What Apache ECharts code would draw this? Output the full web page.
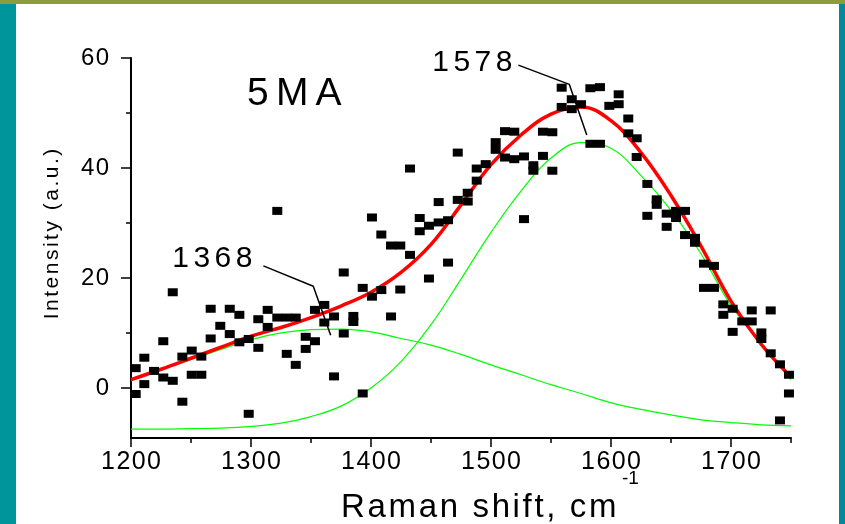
<!DOCTYPE html>
<html>
<head>
<meta charset="utf-8">
<script src="https://cdn.jsdelivr.net/npm/echarts@6/dist/echarts.min.js"></script>
<style>
  html, body { margin: 0; padding: 0; background: #ffffff; }
  #chart { width: 845px; height: 524px; }
</style>
</head>
<body>
<div id="chart"></div>
<script>
// Raman spectrum of sample 5MA: measured points, total fit and two component bands.

// Sample positions (cm-1) for the fitted curves
const curveShift = [1200, 1225, 1250, 1275, 1300, 1325, 1350, 1375, 1400, 1425, 1450, 1475,
                    1500, 1525, 1550, 1575, 1600, 1625, 1650, 1675, 1700, 1725, 1750];
// Total fit (red)
const totalFit = [1.5, 3.4, 5.4, 7.4, 9.4, 11.0, 12.8, 14.9, 17.4, 21.0, 26.1, 33.3,
                  40.6, 46.0, 49.8, 51.1, 48.6, 42.8, 35.0, 25.8, 15.8, 8.0, 2.0];
// Component band near 1368 cm-1 (green)
const band1368 = [1.3, 3.3, 5.2, 7.0, 8.8, 10.0, 10.6, 10.7, 10.2, 9.0, 7.8, 6.1,
                  4.2, 2.4, 0.6, -1.0, -2.7, -3.9, -4.9, -5.8, -6.3, -6.7, -6.9];
// Component band near 1578 cm-1 (green)
const band1578 = [-7.5, -7.5, -7.4, -7.3, -7.0, -6.4, -5.2, -3.3, 0.0, 4.8, 11.5, 19.8,
                  28.3, 35.8, 41.8, 44.6, 43.6, 38.6, 32.3, 24.4, 15.0, 8.3, 1.5];

// Measured intensities [shift, intensity]
const measured = [
  [1203.9, 3.6], [1203.9, -1.1], [1211.1, 5.5], [1211.1, 0.7], [1219.2, 3.1],
  [1226.9, 8.5], [1226.9, 1.9], [1234.8, 17.4], [1234.8, 1.3], [1242.8, 5.7], [1242.8, -2.5],
  [1250.6, 6.8], [1250.6, 2.4], [1258.6, 5.7], [1258.6, 2.4], [1266.4, 14.4], [1266.4, 9.0],
  [1274.4, 11.3], [1282.3, 14.4], [1282.3, 9.8], [1290.3, 13.3], [1290.3, 8.3],
  [1298.1, 8.9], [1298.1, -4.7], [1306.1, 12.5], [1306.1, 7.3], [1313.9, 14.2], [1313.9, 11.1],
  [1321.9, 32.2], [1321.9, 12.8], [1329.8, 12.8], [1329.8, 6.2], [1337.3, 12.8], [1337.3, 4.2],
  [1345.6, 9.3], [1345.6, 7.1], [1353.3, 14.2], [1353.3, 8.5], [1361.1, 15.1], [1361.1, 11.9],
  [1369.2, 13.0], [1369.2, 2.1], [1377.3, 21.0], [1377.3, 9.9], [1385.3, 13.1], [1385.3, 12.0],
  [1393.1, 18.2], [1393.1, -1.0], [1400.8, 31.0], [1400.8, 16.6], [1408.6, 27.9], [1408.6, 17.8],
  [1416.7, 25.9], [1416.7, 13.0], [1424.4, 25.9], [1424.4, 17.9], [1432.5, 39.9], [1432.5, 24.2],
  [1440.6, 30.9], [1440.6, 28.5], [1448.3, 29.5], [1448.3, 19.9], [1456.4, 33.8], [1456.4, 30.1],
  [1464.2, 30.5], [1464.2, 22.8], [1472.3, 42.8], [1472.3, 34.2], [1480.6, 35.5], [1480.6, 33.9],
  [1488.1, 39.9], [1488.1, 37.7], [1495.6, 40.7], [1503.9, 44.7], [1503.9, 43.3],
  [1511.7, 46.7], [1511.7, 41.9], [1519.4, 46.6], [1519.4, 41.6], [1527.5, 42.1], [1527.5, 30.7],
  [1535.3, 40.5], [1535.3, 39.5], [1543.3, 46.6], [1543.3, 42.2], [1551.1, 46.5], [1551.1, 39.5],
  [1558.9, 54.6], [1558.9, 51.1], [1567.3, 52.5], [1567.3, 50.7], [1575.0, 51.6],
  [1582.8, 54.5], [1582.8, 44.4], [1590.8, 54.7], [1590.8, 44.4], [1598.6, 51.3],
  [1606.4, 53.4], [1606.4, 51.6], [1614.4, 49.0], [1614.4, 46.3], [1621.4, 45.4], [1621.4, 42.0],
  [1630.3, 37.1], [1630.3, 31.3], [1638.1, 34.3], [1638.1, 33.3], [1646.4, 31.7], [1646.4, 29.3],
  [1654.2, 32.2], [1654.2, 30.9], [1661.7, 32.2], [1661.7, 27.8], [1670.0, 27.3], [1670.0, 26.4],
  [1677.5, 22.6], [1677.5, 18.2], [1685.8, 22.2], [1685.8, 18.2], [1693.6, 15.2], [1693.6, 13.3],
  [1701.4, 14.4], [1701.4, 10.2], [1709.4, 12.1], [1717.3, 14.1], [1717.3, 12.1],
  [1725.3, 10.1], [1725.3, 8.9], [1733.1, 14.1], [1733.1, 6.3], [1740.8, 4.3], [1740.8, -5.9],
  [1748.3, 2.4], [1748.3, -1.0]
];

// Axis ticks
const xMajorTicks = [1200, 1300, 1400, 1500, 1600, 1700];
const xMinorTicks = [1250, 1350, 1450, 1550, 1650, 1750];
const yMajorTicks = [0, 20, 40, 60];
const yMinorTicks = [10, 30, 50];

// Peak annotations: label and leader line points [shift, intensity]
const peakLabels = ['1578', '1368'];
const leader1578 = [[1522.8, 58.7], [1565.3, 55.2], [1579.8, 46.0]];
const leader1368 = [[1310.3, 22.2], [1351.9, 18.5], [1366.4, 9.6]];

const SANS = "Arial, 'Liberation Sans', Helvetica, sans-serif";

// Build a letter-spaced rich string: each character separated by a small gap token.
function spaced(text, style, gap) {
  return text.split('').map(function (c) { return '{' + style + '|' + c + '}'; })
             .join('{' + gap + '| }');
}

const curve = (ys) => curveShift.map((x, i) => [x, ys[i]]);

const chart = echarts.init(document.getElementById('chart'), null, { renderer: 'canvas' });

const axisBlack = { color: '#000000', width: 2 };
const tickBlack = { color: '#000000', width: 1.5 };

function peakLabel(text, distance, offset) {
  return {
    show: true, position: 'left', distance: distance, offset: offset,
    formatter: () => spaced(text, 'd', 'g'),
    rich: {
      d: { fontFamily: SANS, fontSize: 30, color: '#000' },
      g: { fontFamily: SANS, fontSize: 16, color: '#000' }
    }
  };
}

chart.setOption({
  backgroundColor: '#ffffff',
  animation: false,
  graphic: [
    { type: 'rect', shape: { x: 0, y: 0, width: 16, height: 524 }, style: { fill: '#00959b' }, z: 100 },
    { type: 'rect', shape: { x: 839, y: 0, width: 6, height: 524 }, style: { fill: '#008a9b' }, z: 100 },
    { type: 'rect', shape: { x: 0, y: 0, width: 845, height: 4 }, style: { fill: '#8c9c3c' }, z: 101 }
  ],
  title: {
    text: spaced('5MA', 't', 'g'),
    left: 242, top: 70,
    textStyle: {
      fontWeight: 'normal',
      rich: {
        t: { fontFamily: SANS, fontSize: 39, fontWeight: 'normal', color: '#000' },
        g: { fontFamily: SANS, fontSize: 26, fontWeight: 'normal', color: '#000' }
      }
    }
  },
  grid: { left: 131, right: 54, top: 58, bottom: 86, containLabel: false, outerBoundsMode: 'none' },
  xAxis: [
    {
      type: 'value', min: 1200, max: 1750, position: 'bottom',
      axisLine: { show: true, onZero: false, lineStyle: axisBlack },
      axisTick: { show: true, customValues: xMajorTicks, length: 9, lineStyle: tickBlack },
      axisLabel: {
        show: true, customValues: xMajorTicks, margin: 12,
        formatter: (v) => spaced(String(v), 'd', 'g'),
        rich: {
          d: { fontFamily: SANS, fontSize: 25, color: '#000' },
          g: { fontFamily: SANS, fontSize: 5, color: '#000' }
        }
      },
      splitLine: { show: false },
      name: '{sp|}' + spaced('Raman shift, cm', 'n', 'g') + '{g2| }{sup|-1}',
      nameLocation: 'middle', nameGap: 31.5, nameMoveOverlap: false,
      nameTextStyle: {
        fontFamily: SANS, fontSize: 33,
        rich: {
          sp: { width: 58, lineHeight: 76 },
          n: { fontFamily: SANS, fontSize: 33, color: '#000', lineHeight: 76 },
          g: { fontFamily: SANS, fontSize: 9.5, color: '#000', lineHeight: 76 },
          g2: { fontFamily: SANS, fontSize: 20, color: '#000', lineHeight: 76 },
          sup: { fontFamily: SANS, fontSize: 19, color: '#000', verticalAlign: 'top', lineHeight: 19 }
        }
      }
    },
    {
      type: 'value', min: 1200, max: 1750, position: 'bottom',
      axisLine: { show: false, onZero: false },
      axisTick: { show: true, customValues: xMinorTicks, length: 5, lineStyle: tickBlack },
      axisLabel: { show: false },
      splitLine: { show: false }
    }
  ],
  yAxis: [
    {
      type: 'value', min: -9.1, max: 60, position: 'left',
      axisLine: { show: true, onZero: false, lineStyle: axisBlack },
      axisTick: { show: true, customValues: yMajorTicks, length: 10, lineStyle: tickBlack },
      axisLabel: {
        show: true, customValues: yMajorTicks, margin: 22,
        formatter: (v) => spaced(String(v), 'd', 'g'),
        rich: {
          d: { fontFamily: SANS, fontSize: 24, color: '#000' },
          g: { fontFamily: SANS, fontSize: 5, color: '#000' }
        }
      },
      splitLine: { show: false },
      name: '{sp|}' + spaced('Intensity (a.u.)', 'n', 'g'),
      nameLocation: 'middle', nameRotate: 90, nameGap: 68,
      nameTextStyle: {
        fontFamily: SANS, fontSize: 21,
        rich: {
          sp: { width: 28 },
          n: { fontFamily: SANS, fontSize: 21, color: '#000' },
          g: { fontFamily: SANS, fontSize: 9, color: '#000' }
        }
      }
    },
    {
      type: 'value', min: -9.1, max: 60, position: 'left',
      axisLine: { show: false, onZero: false },
      axisTick: { show: true, customValues: yMinorTicks, length: 5, lineStyle: tickBlack },
      axisLabel: { show: false },
      splitLine: { show: false }
    }
  ],
  series: [
    {
      name: 'band 1368', type: 'line', data: curve(band1368), smooth: 0.4,
      symbol: 'none', lineStyle: { color: '#00ff00', width: 1.2 }, z: 2
    },
    {
      name: 'band 1578', type: 'line', data: curve(band1578), smooth: 0.4,
      symbol: 'none', lineStyle: { color: '#00ff00', width: 1.2 }, z: 2
    },
    {
      name: 'total fit', type: 'line', data: curve(totalFit), smooth: 0.4,
      symbol: 'none', lineStyle: { color: '#ff0000', width: 3.5 }, z: 3
    },
    {
      name: 'measured', type: 'scatter', data: measured,
      symbol: 'rect', symbolSize: [10, 8],
      itemStyle: { color: '#000000', opacity: 1 }, z: 4
    },
    {
      name: 'label 1578', type: 'line', z: 5,
      symbol: 'circle', symbolSize: 0, showSymbol: true,
      lineStyle: { color: '#000', width: 1.5 },
      data: leader1578.map((p, i) => i === 0
        ? { value: p, label: peakLabel(peakLabels[0], 6, [0, -2]) }
        : { value: p })
    },
    {
      name: 'label 1368', type: 'line', z: 5,
      symbol: 'circle', symbolSize: 0, showSymbol: true,
      lineStyle: { color: '#000', width: 1.5 },
      data: leader1368.map((p, i) => i === 0
        ? { value: p, label: peakLabel(peakLabels[1], 11, [0, -7]) }
        : { value: p })
    }
  ]
});
</script>
</body>
</html>
